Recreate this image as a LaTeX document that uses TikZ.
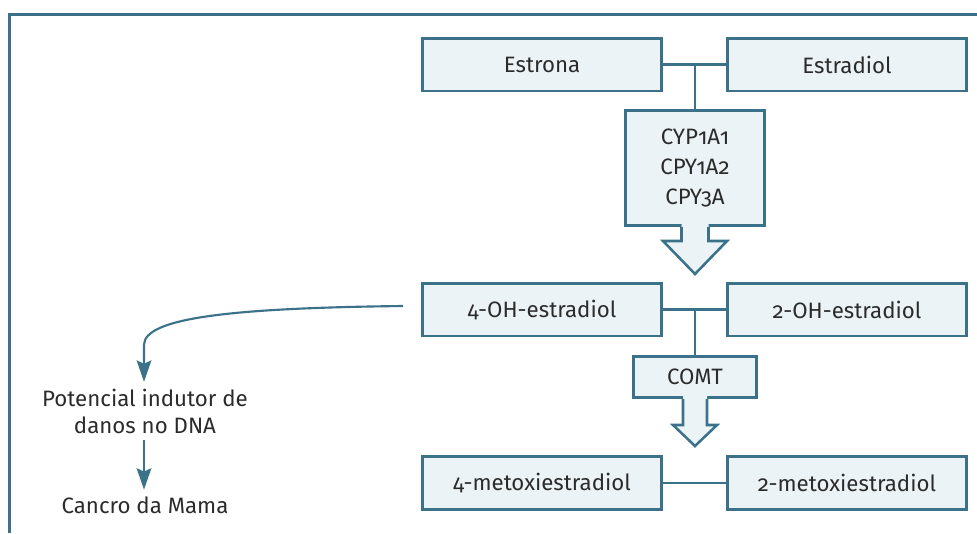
\documentclass[tikz,border=0pt]{standalone}
\usepackage{fontspec}
\setmainfont{Fira Sans}[Numbers=OldStyle]
\usetikzlibrary{arrows.meta}
\definecolor{azul}{HTML}{3B7189}
\definecolor{fundo}{HTML}{EBF3F6}
\definecolor{texto}{HTML}{2B2B2B}
\newcommand{\Seta}[5]{%
  \fill[fundo,shift={(#1.south)}] (-#2,-3) -- (-#2,#3) -- (-#4,#3) -- (0,#5) -- (#4,#3) -- (#2,#3) -- (#2,-3) -- cycle;
  \draw[azul,line width=1.9pt,shift={(#1.south)}] (-#2,0) -- (-#2,#3) -- (-#4,#3) -- (0,#5) -- (#4,#3) -- (#2,#3) -- (#2,0);}

\begin{document}
\begin{tikzpicture}[
                    x=0.75pt,y=-0.75pt,
                    >={Stealth[length=16pt,width=11pt,inset=2.5pt]},
                    caixa/.style={draw=azul,fill=fundo,line width=1.9pt,inner sep=0pt,
                                  minimum width=179.6pt,minimum height=39.4pt},
                    enzima/.style={caixa,align=center,minimum width=#1},
                    linha/.style={azul,line width=1.6pt},
                    seta/.style={azul,line width=1.6pt,->},
                    every node/.style={text=texto,font=\fontsize{16.7}{20.25}\selectfont}]

                \useasboundingbox (0,0) rectangle (977,533);
                \draw[azul,line width=2.25pt] (9.5,533) -- (9.5,14) -- (977,14);

                \draw(542,64.5) node[caixa] (estrona) {Estrona};
                \draw(847,64.5) node[caixa] (estradiol) {Estradiol};
                \draw(695,168) node[enzima=104.6pt,minimum height=86.6pt,
                      font=\fontsize{16.7}{22.5}\selectfont] (cyp) {CYP1A1\\CPY1A2\\CPY3A};
                \draw(542,309.5) node[caixa] (oh4) {4-OH-estradiol};
                \draw(847,309.5) node[caixa] (oh2) {2-OH-estradiol};
                \draw(695,377) node[enzima=92.6pt,minimum height=31.1pt] (comt) {COMT};
                \draw(542,483) node[caixa] (meto4) {4-metoxiestradiol};
                \draw(847,483) node[caixa] (meto2) {2-metoxiestradiol};

                \draw(145,411) node[align=center,inner sep=5pt] (dano) {Potencial indutor de\\danos no DNA};
                \draw(145,505) node[inner sep=5pt] (cancro) {Cancro da Mama};
                \coordinate (inicio) at (403,306);

                \Seta{cyp}{13.5}{14}{32}{47}
                \Seta{comt}{12}{26}{22}{47}

                \draw[linha] (estrona) -- (estradiol);
                \draw[linha] (cyp.north) -- (cyp.north |- estrona.east);
                \draw[linha] (oh4) -- (oh2);
                \draw[linha] (comt.north) -- (comt.north |- oh4.east);
                \draw[linha] (meto4) -- (meto2);

                \draw[seta] (inicio) .. controls (230,308) and (144,318) .. (144,345) -- (dano.north -| 144,0);
                \draw[seta] (dano.south -| 144,0) -- (cancro.north -| 144,0);

            \end{tikzpicture}
\end{document}
